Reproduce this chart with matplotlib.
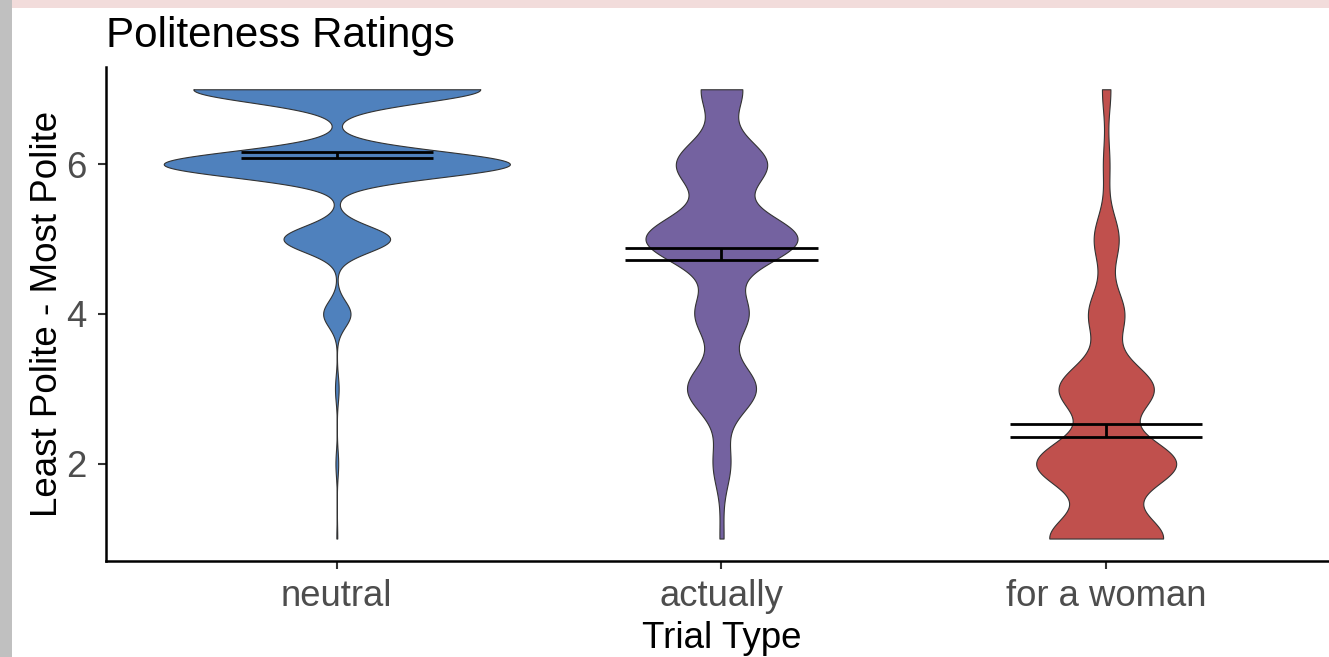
import numpy as np
import matplotlib
matplotlib.use("Agg")
import matplotlib.pyplot as plt
from matplotlib import cbook
from matplotlib.patches import Rectangle

# ---- data ----
categories = ["neutral", "actually", "for a woman"]
ratings = [1, 2, 3, 4, 5, 6, 7]
neutral_counts = [1, 3, 4, 30, 117, 380, 315]
actually_counts = [8, 35, 137, 106, 302, 180, 82]
woman_counts = [228, 280, 190, 72, 50, 13, 17]
means = [6.12, 4.80, 2.445]
err_half = [0.044, 0.080, 0.085]
colors = ["#4F81BD", "#7462A0", "#C0504D"]
yticks = [2, 4, 6]

plt.rcParams['font.family'] = ['Liberation Sans', 'DejaVu Sans']

def nrd0(x):
    x = np.asarray(x, float)
    sd = np.std(x, ddof=1)
    q75, q25 = np.percentile(x, [75, 25])
    lo = min(sd, (q75 - q25) / 1.34)
    return 0.9 * lo * len(x) ** (-0.2)

def gauss_kde(x, coords):
    x = np.asarray(x, float)
    h = nrd0(x)
    d = (coords[:, None] - x[None, :]) / h
    return np.exp(-0.5 * d ** 2).sum(axis=1) / (len(x) * h * np.sqrt(2 * np.pi))

groups = [np.repeat(ratings, c) for c in (neutral_counts, actually_counts, woman_counts)]
stats = cbook.violin_stats(groups, gauss_kde, points=512)
maxd = [s['vals'].max() for s in stats]
gmax = max(maxd)
widths = [0.9 * m / gmax for m in maxd]

W, H, DPI = 1329, 657, 100
fig = plt.figure(figsize=(W / DPI, H / DPI), dpi=DPI)
fig.patch.set_facecolor("white")

# screenshot frame artefacts
fig.patches.append(Rectangle((0, 1 - 8 / H), 1, 8 / H, transform=fig.transFigure,
                             facecolor="#F2DCDB", edgecolor="none", zorder=0))
fig.patches.append(Rectangle((0, 0), 12 / W, 1, transform=fig.transFigure,
                             facecolor="#C0C0C0", edgecolor="none", zorder=0))

left_px, right_px, top_px, bot_px = 106, 1337, 66.8, 561
ax = fig.add_axes([left_px / W, 1 - bot_px / H, (right_px - left_px) / W, (bot_px - top_px) / H])
ax.set_facecolor("none")

pos = np.arange(1, len(categories) + 1)
parts = ax.violin(stats, positions=pos, widths=widths, showmeans=False,
                  showextrema=False, showmedians=False)
for body, c in zip(parts['bodies'], colors):
    body.set_facecolor(c)
    body.set_edgecolor("#333333")
    body.set_linewidth(0.8)
    body.set_alpha(1)

lo = np.array(means) - np.array(err_half)
hi = np.array(means) + np.array(err_half)
ax.hlines(lo, pos - 0.25, pos + 0.25, colors="black", lw=2.0, zorder=3)
ax.hlines(hi, pos - 0.25, pos + 0.25, colors="black", lw=2.0, zorder=3)
ax.vlines(pos, lo, hi, colors="black", lw=2.0, zorder=3)

ax.set_xlim(0.4, 3.6)
ax.set_ylim(0.7, 7.3)
ax.set_xticks(pos)
ax.set_xticklabels(categories)
ax.set_yticks(yticks)
ax.set_yticklabels([str(t) for t in yticks])

for s in ["top", "right"]:
    ax.spines[s].set_visible(False)
for s in ["left", "bottom"]:
    ax.spines[s].set_color("black")
    ax.spines[s].set_linewidth(1.8)

ax.tick_params(axis="both", colors="#333333", length=5.8, width=1.5,
               labelsize=26.3, labelcolor="#4D4D4D")
ax.tick_params(axis="x", pad=7)
ax.tick_params(axis="y", pad=8)

ax.set_xlabel("Trial Type", fontsize=26.5, color="black", labelpad=5)
ax.set_ylabel("Least Polite - Most Polite", fontsize=26.5, color="black", labelpad=1)
ax.set_title("Politeness Ratings", loc="left", fontsize=30.3, color="black", pad=14.4)

fig.savefig("out.png", dpi=DPI)
